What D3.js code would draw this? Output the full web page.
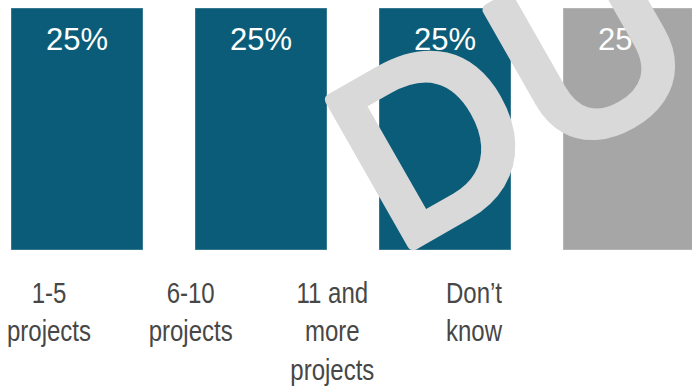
<!DOCTYPE html>
<html>
<head>
<meta charset="utf-8">
<script src="https://cdn.jsdelivr.net/npm/d3@7"></script>
<style>
  html, body { margin: 0; padding: 0; background: #ffffff; }
  svg { display: block; }
</style>
</head>
<body>
<svg id="chart" width="692" height="388"></svg>
<script>
// Share of respondents by number of projects
const categories = ["1-5 projects", "6-10 projects", "11 and more projects", "Don’t know"];
const categoryLines = [["1-5", "projects"], ["6-10", "projects"], ["11 and", "more", "projects"], ["Don’t", "know"]];
const values = [0.25, 0.25, 0.25, 0.25];
const barColors = ["#0b5c78", "#0b5c78", "#0b5c78", "#a6a6a6"];
const watermarkLetters = ["D", "U"];

const svg = d3.select("#chart");

const x = d3.scaleBand()
  .domain(categories)
  .range([-15, 721])
  .paddingInner(0.2826)
  .paddingOuter(0.1413);

const y = d3.scaleLinear()
  .domain([0, 0.25])
  .range([250, 8]);

// category labels sit on their own, tighter spacing
const xLabel = d3.scalePoint()
  .domain(categories)
  .range([49, 474]);

const fmt = d3.format(".0%");

// bars
svg.append("g")
  .selectAll("rect")
  .data(categories)
  .join("rect")
  .attr("x", d => x(d))
  .attr("y", (d, i) => y(values[i]))
  .attr("width", x.bandwidth())
  .attr("height", (d, i) => y(0) - y(values[i]))
  .attr("fill", (d, i) => barColors[i])
  .attr("stroke", "#ffffff")
  .attr("stroke-opacity", 0.35)
  .attr("stroke-width", 1);

// value labels inside the bars
svg.append("g")
  .selectAll("text")
  .data(categories)
  .join("text")
  .attr("x", d => x(d) + x.bandwidth() / 2)
  .attr("y", (d, i) => y(values[i]) + 42)
  .attr("text-anchor", "middle")
  .attr("font-family", "'Liberation Sans', Arial, sans-serif")
  .attr("font-size", 31)
  .attr("fill", "#ffffff")
  .text((d, i) => fmt(values[i]));

// category labels, horizontally condensed
const lbl = svg.append("g")
  .selectAll("g")
  .data(categories)
  .join("g")
  .attr("transform", d => `translate(${xLabel(d)},303) scale(0.8,1)`)
  .append("text")
  .attr("text-anchor", "middle")
  .attr("font-family", "'Liberation Sans', Arial, sans-serif")
  .attr("font-size", 30)
  .attr("fill", "#474747");

lbl.selectAll("tspan")
  .data((d, i) => categoryLines[i])
  .join("tspan")
  .attr("x", 0)
  .attr("dy", (d, j) => j === 0 ? 0 : 38.5)
  .text(d => d);

// watermark, heavy strokes drawn over the chart
svg.append("text")
  .attr("transform", "translate(396,254) rotate(-29.7)")
  .attr("font-family", "'Liberation Sans', Arial, sans-serif")
  .attr("font-size", 242)
  .attr("fill", "#d9d9d9")
  .attr("stroke", "#d9d9d9")
  .attr("stroke-width", 12)
  .attr("stroke-linejoin", "round")
  .selectAll("tspan")
  .data(watermarkLetters)
  .join("tspan")
  .attr("dx", (d, i) => i === 0 ? 0 : 8)
  .text(d => d);
</script>
</body>
</html>
